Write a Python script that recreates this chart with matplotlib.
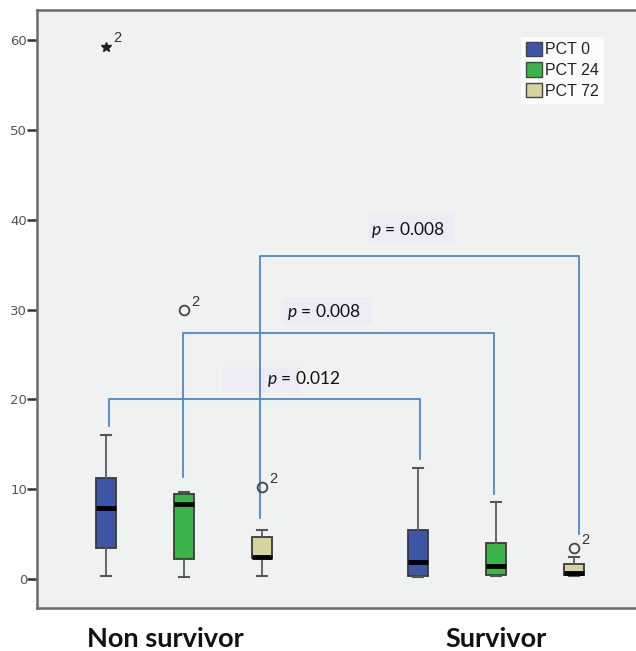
import matplotlib
matplotlib.use("Agg")
import matplotlib.pyplot as plt
from matplotlib.patches import Patch, Rectangle
from matplotlib.transforms import blended_transform_factory

plt.rcParams['mathtext.fontset'] = 'custom'
plt.rcParams['mathtext.it'] = 'Lato:italic'
plt.rcParams['mathtext.rm'] = 'Lato'

# ---------------- data ----------------
groups = ["Non survivor", "Survivor"]
series = ["PCT 0", "PCT 24", "PCT 72"]
colors = ["#3d57a7", "#3bb54a", "#d6d39c"]

# order: Non survivor PCT0, PCT24, PCT72, Survivor PCT0, PCT24, PCT72
whis_lo = [0.3, 0.2, 0.3, 0.25, 0.3, 0.3]
q1 = [3.5, 2.2, 2.3, 0.35, 0.4, 0.4]
median = [7.9, 8.35, 2.45, 1.9, 1.45, 0.65]
q3 = [11.3, 9.5, 4.7, 5.4, 4.0, 1.65]
whis_hi = [16.0, 9.7, 5.5, 12.4, 8.6, 2.5]

# outliers: (box index, value, kind, case label)
outlier_box = [0, 1, 2, 5]
outlier_val = [59.2, 29.9, 10.2, 3.4]
outlier_kind = ["extreme", "outlier", "outlier", "outlier"]
outlier_case = ["2", "2", "2", "2"]

# comparisons (box index pairs) with p-values
comp_pairs = [(0, 3), (1, 4), (2, 5)]
comp_p = ["0.012", "0.008", "0.008"]
comp_height = [20.0, 27.4, 36.0]
comp_leg_ends = [(17.0, 13.4), (11.4, 9.5), (6.8, 5.0)]

# ---------------- layout ----------------
positions = [1, 2, 3, 5, 6, 7]
leg_offsets = [(0.04, 0.03), (-0.01, -0.02), (-0.03, 0.06)]
W, H = 636, 651
fig = plt.figure(figsize=(W / 100, H / 100), dpi=100)
ax = fig.add_axes([37 / W, (H - 608) / H, (W - 37) / W, 598 / H])
ax.set_facecolor("#f0f1f1")
ax.set_xlim(0.115, 7.795)
ax.set_ylim(-3.23, 63.36)

stats = []
for i in range(6):
    stats.append(dict(whislo=whis_lo[i], q1=q1[i], med=median[i], q3=q3[i],
                      whishi=whis_hi[i], fliers=[]))

bp = ax.bxp(stats, positions=positions, widths=0.25, patch_artist=True,
            showfliers=False, manage_ticks=False,
            boxprops=dict(edgecolor="#3a3a3a", linewidth=1.3),
            medianprops=dict(color="black", linewidth=3.5, solid_capstyle="butt"),
            whiskerprops=dict(color="#5a5a5a", linewidth=1.3),
            capprops=dict(color="#555555", linewidth=1.5),
            capwidths=0.13, zorder=3)
for i, patch in enumerate(bp["boxes"]):
    patch.set_facecolor(colors[i % 3])

# comparison brackets
line_c = "#4a88cc"
for (a, b), h, (la, lb), (oa, ob) in zip(comp_pairs, comp_height, comp_leg_ends, leg_offsets):
    xa = positions[a] + oa
    xb = positions[b] + ob
    ax.plot([xa, xa, xb, xb], [la, h, h, lb], color=line_c, lw=1.3, zorder=4)

# p-value labels
label_bg = [(2.50, 20.8, 0.99, 2.8), (3.27, 28.3, 1.14, 3.0), (4.36, 37.4, 1.10, 3.2)]
label_xy = [(3.53, 22.3), (3.79, 29.7), (4.87, 38.9)]
for (bx, by, bw, bh), (tx, ty), p in zip(label_bg, label_xy, comp_p):
    ax.add_patch(Rectangle((bx, by), bw, bh, facecolor="#ecebf6", edgecolor="none", zorder=2))
    ax.text(tx, ty, r"$p$ = " + p, ha="center", va="center", fontsize=12.5,
            family="Lato", color="#111111", zorder=5)

# outliers
for bi, v, kind, case in zip(outlier_box, outlier_val, outlier_kind, outlier_case):
    x = positions[bi]
    if kind == "extreme":
        ax.plot(x, v, marker="*", color="#222222", markersize=7.5, zorder=5)
    else:
        ax.plot(x, v, marker="o", markerfacecolor="none", markeredgecolor="#444444",
                markeredgewidth=1.3, markersize=7, zorder=5)
    ax.annotate(case, (x, v), xytext=(5, 3.5), textcoords="offset points",
                fontsize=10.5, color="#333333", family="Liberation Sans", zorder=6)

# axes styling
for s in ["top", "left", "bottom"]:
    ax.spines[s].set_color("#6b6b6b")
    ax.spines[s].set_linewidth(1.8)
ax.spines["right"].set_visible(False)
ax.set_yticks([0, 10, 20, 30, 40, 50, 60])
ax.tick_params(axis="y", length=7, width=1.8, color="#333333", labelsize=9.5,
               labelcolor="#555555", pad=0)
ax.set_xticks([])

# group labels
tr = blended_transform_factory(ax.transData, ax.transAxes)
ax.text(1.76, -0.052, groups[0], transform=tr, ha="center", va="center",
        fontsize=19.5, fontweight="bold", family="Lato", color="#111111")
ax.text(6.0, -0.052, groups[1], transform=tr, ha="center", va="center",
        fontsize=19.5, fontweight="bold", family="Lato", color="#111111")

# legend
handles = [Patch(facecolor=c, edgecolor="#444444", linewidth=1.0) for c in colors]
leg = ax.legend(handles, series, loc="upper left", bbox_to_anchor=(0.808, 0.955),
                frameon=True, fancybox=False,
                prop=dict(family="Liberation Sans", size=11.5),
                handlelength=1.0, handleheight=1.0, handletextpad=0.2,
                labelspacing=0.32, borderpad=0.3, borderaxespad=0)
leg.get_frame().set_facecolor("white")
leg.get_frame().set_edgecolor("none")
for t in leg.get_texts():
    t.set_color("#222222")

fig.savefig("out.png", dpi=100)
